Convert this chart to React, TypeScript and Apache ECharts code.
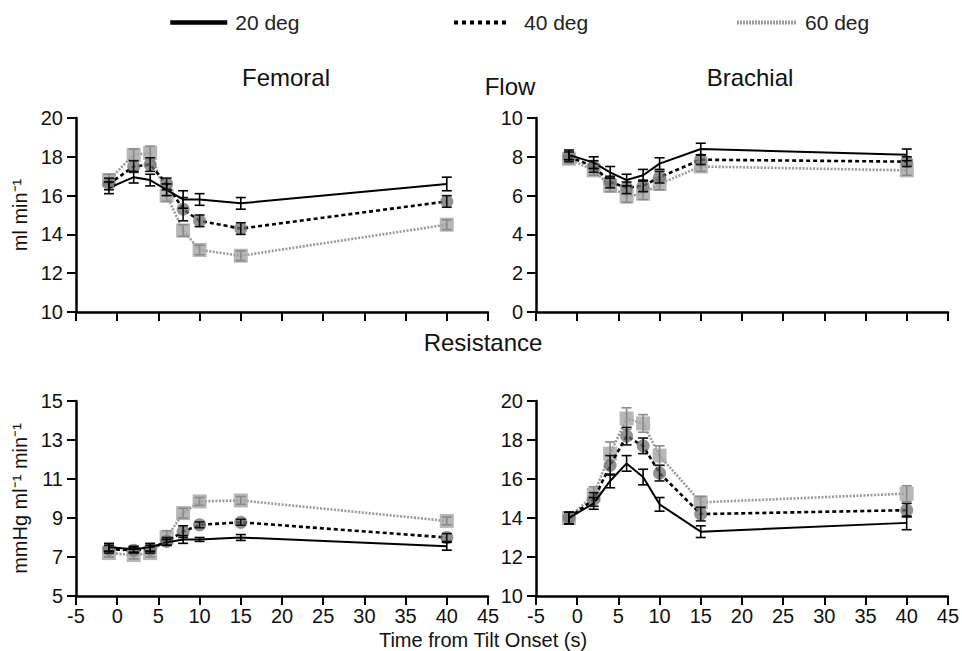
import React, { useEffect, useRef } from "react";
import * as echarts from "echarts";

// ---------- data ----------
const timePoints = [-1, 2, 4, 6, 8, 10, 15, 40];
const seriesNames = ["20 deg", "40 deg", "60 deg"];

// Femoral flow (ml min^-1)
const femFlow20 = [16.4, 16.95, 16.8, 16.3, 15.8, 15.8, 15.6, 16.6];
const femFlow20Err = [0.3, 0.3, 0.3, 0.3, 0.45, 0.3, 0.3, 0.35];
const femFlow40 = [16.6, 17.5, 17.6, 16.6, 15.3, 14.7, 14.3, 15.7];
const femFlow40Err = [0.3, 0.3, 0.35, 0.3, 0.6, 0.3, 0.3, 0.3];
const femFlow60 = [16.8, 18.1, 18.2, 16.0, 14.2, 13.2, 12.9, 14.5];
const femFlow60Err = [0.3, 0.3, 0.35, 0.3, 0.3, 0.25, 0.25, 0.25];

// Brachial flow (ml min^-1)
const braFlow20 = [8.1, 7.7, 7.2, 6.8, 7.05, 7.65, 8.4, 8.1];
const braFlow20Err = [0.25, 0.3, 0.3, 0.3, 0.3, 0.3, 0.3, 0.3];
const braFlow40 = [8.0, 7.5, 6.7, 6.4, 6.5, 6.95, 7.85, 7.75];
const braFlow40Err = [0.25, 0.3, 0.3, 0.3, 0.3, 0.3, 0.25, 0.25];
const braFlow60 = [7.9, 7.3, 6.5, 5.95, 6.1, 6.6, 7.5, 7.3];
const braFlow60Err = [0.25, 0.25, 0.3, 0.3, 0.3, 0.3, 0.25, 0.25];

// Femoral resistance (mmHg ml^-1 min^-1)
const femRes20 = [7.5, 7.4, 7.5, 7.75, 7.9, 7.9, 8.0, 7.55];
const femRes20Err = [0.2, 0.15, 0.2, 0.15, 0.2, 0.1, 0.15, 0.2];
const femRes40 = [7.4, 7.35, 7.4, 7.8, 8.3, 8.65, 8.78, 8.0];
const femRes40Err = [0.2, 0.15, 0.2, 0.2, 0.3, 0.15, 0.15, 0.2];
const femRes60 = [7.2, 7.1, 7.2, 8.0, 9.25, 9.85, 9.9, 8.85];
const femRes60Err = [0.2, 0.2, 0.2, 0.35, 0.25, 0.2, 0.2, 0.2];

// Brachial resistance (mmHg ml^-1 min^-1)
const braRes20 = [14.0, 14.75, 15.9, 16.8, 16.1, 14.7, 13.3, 13.75];
const braRes20Err = [0.3, 0.3, 0.35, 0.4, 0.4, 0.35, 0.3, 0.35];
const braRes40 = [14.0, 14.95, 16.7, 18.2, 17.7, 16.3, 14.2, 14.4];
const braRes40Err = [0.3, 0.35, 0.5, 0.45, 0.4, 0.4, 0.35, 0.35];
const braRes60 = [14.0, 15.2, 17.3, 19.1, 18.85, 17.2, 14.8, 15.25];
const braRes60Err = [0.3, 0.4, 0.6, 0.55, 0.45, 0.5, 0.3, 0.4];

// tick labels
const xTickValues = [-5, 0, 5, 10, 15, 20, 25, 30, 35, 40, 45];
const femFlowTicks = [10, 12, 14, 16, 18, 20];
const braFlowTicks = [0, 2, 4, 6, 8, 10];
const femResTicks = [5, 7, 9, 11, 13, 15];
const braResTicks = [10, 12, 14, 16, 18, 20];

// ---------- layout / styles ----------
const FONT = "'Liberation Sans', Arial, Helvetica, sans-serif";
const grids = [
  { left: 76, top: 118, width: 412, height: 194 },
  { left: 536, top: 118, width: 412, height: 194 },
  { left: 76, top: 401, width: 412, height: 195 },
  { left: 536, top: 401, width: 412, height: 195 },
];

const panels = [
  { values: [femFlow20, femFlow40, femFlow60], errs: [femFlow20Err, femFlow40Err, femFlow60Err], ticks: femFlowTicks, name: "ml min\u207B\u00B9", showX: false },
  { values: [braFlow20, braFlow40, braFlow60], errs: [braFlow20Err, braFlow40Err, braFlow60Err], ticks: braFlowTicks, name: "", showX: false },
  { values: [femRes20, femRes40, femRes60], errs: [femRes20Err, femRes40Err, femRes60Err], ticks: femResTicks, name: "mmHg ml\u207B\u00B9 min\u207B\u00B9", showX: true },
  { values: [braRes20, braRes40, braRes60], errs: [braRes20Err, braRes40Err, braRes60Err], ticks: braResTicks, name: "", showX: true },
];

const lineStyles: any[] = [
  { color: "#000000", width: 2, type: "solid" },
  { color: "#000000", width: 2.6, type: [4, 3] },
  { color: "#9a9a9a", width: 2.6, type: [2, 1.5] },
];
const symbols = ["none", "circle", "rect"];
const symbolColors = ["#000", "rgba(110,110,110,0.75)", "rgba(165,165,165,0.8)"];
const errColors = ["#000", "#111", "#8a8a8a"];

function errorRender(color: string) {
  return (params: any, api: any) => {
    const x = api.value(0);
    const p1 = api.coord([x, api.value(1)]);
    const p2 = api.coord([x, api.value(2)]);
    const w = 5;
    const style = { stroke: color, lineWidth: 1.6, fill: "none" };
    return {
      type: "group",
      children: [
        { type: "line", shape: { x1: p1[0], y1: p1[1], x2: p2[0], y2: p2[1] }, style },
        { type: "line", shape: { x1: p1[0] - w, y1: p1[1], x2: p1[0] + w, y2: p1[1] }, style },
        { type: "line", shape: { x1: p2[0] - w, y1: p2[1], x2: p2[0] + w, y2: p2[1] }, style },
      ],
    };
  };
}

export default function App() {
  const ref = useRef<HTMLDivElement>(null);
  useEffect(() => {
    document.body.style.margin = "0";
    if (!ref.current) return;
    const chart = echarts.init(ref.current, undefined, { renderer: "svg" });

    const xAxes: any[] = [];
    const yAxes: any[] = [];
    const series: any[] = [];

    panels.forEach((p, i) => {
      xAxes.push({
        type: "value",
        gridIndex: i,
        min: -5,
        max: 45,
        interval: 5,
        axisLine: { show: true, onZero: false, lineStyle: { color: "#000", width: 2.5 } },
        axisTick: { show: true, length: 9, lineStyle: { color: "#000", width: 2 } },
        axisLabel: { show: p.showX, color: "#111", fontSize: 20, fontFamily: FONT, margin: 10, customValues: xTickValues },
        splitLine: { show: false },
      });
      yAxes.push({
        type: "value",
        gridIndex: i,
        min: p.ticks[0],
        max: p.ticks[p.ticks.length - 1],
        name: p.name,
        nameLocation: "middle",
        nameGap: 46,
        nameTextStyle: { fontSize: 20, color: "#111", fontFamily: FONT },
        axisLine: { show: true, onZero: false, lineStyle: { color: "#000", width: 2.5 } },
        axisTick: { show: true, length: 9, lineStyle: { color: "#000", width: 2 }, customValues: p.ticks },
        axisLabel: { color: "#111", fontSize: 20, fontFamily: FONT, margin: 13, customValues: p.ticks },
        splitLine: { show: false },
      });
      // draw 60 first, then 40, then 20 on top
      [2, 1, 0].forEach((k) => {
        const vals = p.values[k];
        const errs = p.errs[k];
        series.push({
          type: "line",
          name: seriesNames[k],
          xAxisIndex: i,
          yAxisIndex: i,
          data: timePoints.map((t, j) => [t, vals[j]]),
          symbol: symbols[k],
          symbolSize: k === 2 ? 14 : 13,
          showSymbol: k !== 0,
          itemStyle: { color: symbolColors[k] },
          lineStyle: lineStyles[k],
          z: 2 + (2 - k),
        });
        series.push({
          type: "custom",
          name: seriesNames[k] + " SEM",
          xAxisIndex: i,
          yAxisIndex: i,
          data: timePoints.map((t, j) => [t, vals[j] - errs[j], vals[j] + errs[j]]),
          encode: { x: 0, y: [1, 2] },
          renderItem: errorRender(errColors[k]),
          z: 6 + (2 - k),
        });
      });
    });

    const legendLefts = [168, 452, 735];
    const legendWidths = [57, 53, 60];
    const legendGaps = [8, 17, 8];
    const legends = seriesNames.map((n, k) => ({
      data: [n],
      left: legendLefts[k],
      top: 12,
      padding: 0,
      itemWidth: legendWidths[k],
      itemHeight: 22,
      selectedMode: false,
      itemStyle: { opacity: 0 },
      lineStyle: { width: k === 0 ? 4.5 : 4, type: k === 1 ? [4, 4] : k === 2 ? [2, 1] : "solid" },
      textStyle: { fontSize: 21, color: "#222", fontFamily: FONT, padding: [0, 0, 0, legendGaps[k] - 5] },
    }));

    const txt = (text: string, x: number, y: number, size: number) => ({
      type: "text",
      x,
      y,
      style: { text, fontSize: size, fontFamily: FONT, fill: "#111", textAlign: "center", textVerticalAlign: "middle" },
    });

    chart.setOption({
      animation: false,
      backgroundColor: "#fff",
      textStyle: { fontFamily: FONT },
      legend: legends,
      grid: grids,
      xAxis: xAxes,
      yAxis: yAxes,
      series,
      graphic: [
        txt("Femoral", 286, 77, 24),
        txt("Brachial", 750, 77, 24),
        txt("Flow", 510, 86, 24),
        txt("Resistance", 483, 342, 24),
        txt("Time from Tilt Onset (s)", 483, 640, 20),
      ],
    });
    return () => chart.dispose();
  }, []);
  return <div ref={ref} style={{ width: 962, height: 651 }} />;
}
